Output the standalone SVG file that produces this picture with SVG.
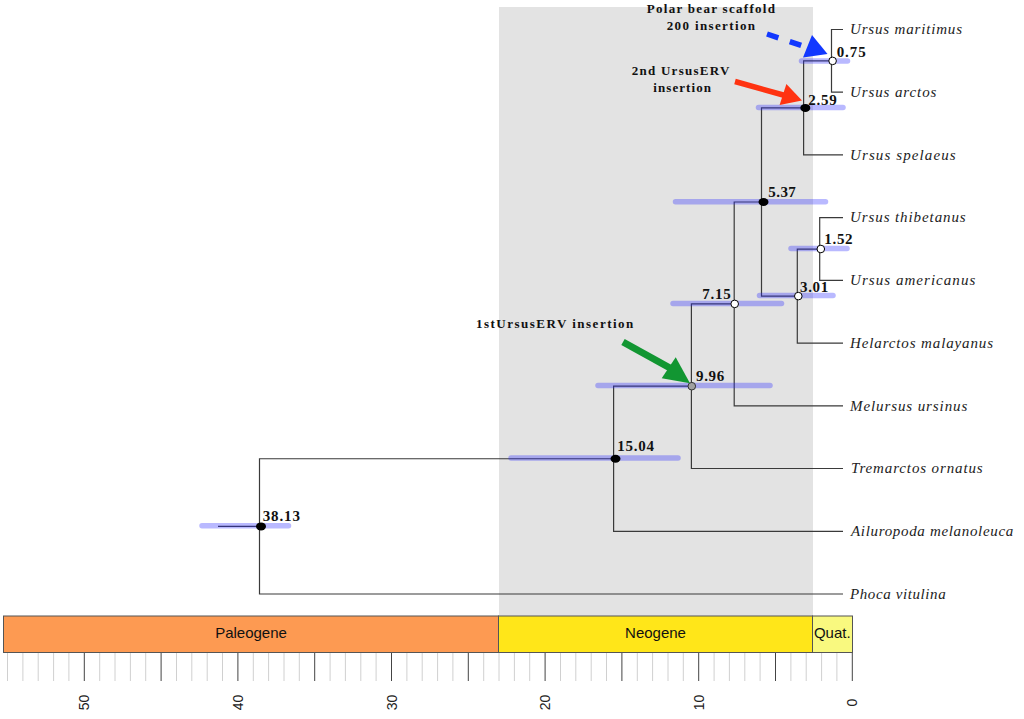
<svg xmlns="http://www.w3.org/2000/svg" width="1024" height="719" viewBox="0 0 1024 719">
<defs>
<style>
.br{fill:none;stroke:#3a3a3a;stroke-width:1.2}
.hpd{stroke:#2b2bff;stroke-opacity:0.33;stroke-width:5.5;stroke-linecap:round}
.nl{font-family:"Liberation Serif",serif;font-weight:bold;font-size:15px;fill:#111}
.tx{font-family:"Liberation Serif",serif;font-style:italic;font-size:15px;fill:#222}
.an{font-family:"Liberation Serif",serif;font-weight:bold;font-size:13px;fill:#111}
.per{font-family:"Liberation Sans",Arial,sans-serif;font-size:15px;fill:#111;text-anchor:middle}
.ax{font-family:"Liberation Sans",Arial,sans-serif;font-size:14px;fill:#222;text-anchor:middle}
.op{fill:#fff;stroke:#000;stroke-width:1}
.bk{fill:#000}
</style>
</defs>
<rect width="1024" height="719" fill="#fff"/>
<rect x="499" y="7" width="314" height="609" fill="#e3e3e3"/>

<g id="connectors">
<path class="br" d="M218 526.4H259.5"/>
<path class="br" d="M843 29.5H831.5V92.2H843"/>
<path class="br" d="M831.5 60.9H803.6V154.9H843"/>
<path class="br" d="M843 217.7H819.7V280.4H843"/>
<path class="br" d="M819.7 249.05H797.3V343.1H843"/>
<path class="br" d="M803.6 107.9H761.5V296.1H797.3"/>
<path class="br" d="M761.5 202H734.2V405.8H843"/>
<path class="br" d="M734.2 303.9H691.4V468.5H843"/>
<path class="br" d="M691.4 386.2H613.6V531.3H843"/>
<path class="br" d="M613.6 458.75H259.5V594H843"/>
</g>

<g id="hpd-bars">
<line class="hpd" x1="801.5" y1="60.9" x2="847.5" y2="60.9"/>
<line class="hpd" x1="758.5" y1="107.6" x2="843" y2="107.6"/>
<line class="hpd" x1="675.5" y1="201.7" x2="825.5" y2="201.7"/>
<line class="hpd" x1="791" y1="248.5" x2="847" y2="248.5"/>
<line class="hpd" x1="759.5" y1="295.6" x2="833" y2="295.6"/>
<line class="hpd" x1="673" y1="303.6" x2="781.5" y2="303.6"/>
<line class="hpd" x1="598" y1="385.6" x2="770" y2="385.6"/>
<line class="hpd" x1="511" y1="458" x2="678" y2="458"/>
<line class="hpd" x1="202" y1="525.8" x2="288.5" y2="525.8"/>
</g>

<g id="node-0.75"><circle class="op" cx="832.6" cy="60.9" r="3.8"/><text class="nl" x="836.7" y="57" textLength="29" lengthAdjust="spacing">0.75</text></g>
<g id="node-2.59"><ellipse class="bk" cx="805.3" cy="107.9" rx="5" ry="4"/><text class="nl" x="808.3" y="105" textLength="28.5" lengthAdjust="spacing">2.59</text></g>
<g id="node-5.37"><ellipse class="bk" cx="763.5" cy="202" rx="5" ry="4"/><text class="nl" x="768.3" y="196.7" textLength="27.5" lengthAdjust="spacing">5.37</text></g>
<g id="node-1.52"><circle class="op" cx="820.8" cy="249" r="3.8"/><text class="nl" x="824.3" y="244.3" textLength="28.3" lengthAdjust="spacing">1.52</text></g>
<g id="node-3.01"><circle class="op" cx="798.3" cy="296.1" r="3.8"/><text class="nl" x="800" y="292.3" textLength="28.3" lengthAdjust="spacing">3.01</text></g>
<g id="node-7.15"><circle class="op" cx="734.7" cy="303.9" r="3.8"/><text class="nl" x="702.3" y="299" textLength="28.4" lengthAdjust="spacing">7.15</text></g>
<g id="node-9.96"><circle cx="691.8" cy="386.2" r="3.8" fill="#a0a0a0" stroke="#333" stroke-width="1"/><text class="nl" x="696" y="381" textLength="28.3" lengthAdjust="spacing">9.96</text></g>
<g id="node-15.04"><ellipse class="bk" cx="615.5" cy="458.75" rx="5" ry="4"/><text class="nl" x="617.3" y="451" textLength="36.7" lengthAdjust="spacing">15.04</text></g>
<g id="node-38.13"><ellipse class="bk" cx="261" cy="526.4" rx="5" ry="4"/><text class="nl" x="262.7" y="520.7" font-weight="normal" textLength="37.3" lengthAdjust="spacing">38.13</text></g>

<g id="tip-maritimus"><text class="tx" x="850" y="34.2" textLength="112" lengthAdjust="spacing">Ursus maritimus</text></g>
<g id="tip-arctos"><text class="tx" x="850" y="96.9" textLength="86.4" lengthAdjust="spacing">Ursus arctos</text></g>
<g id="tip-spelaeus"><text class="tx" x="850" y="159.6" textLength="105.7" lengthAdjust="spacing">Ursus spelaeus</text></g>
<g id="tip-thibetanus"><text class="tx" x="850" y="222.4" textLength="115.7" lengthAdjust="spacing">Ursus thibetanus</text></g>
<g id="tip-americanus"><text class="tx" x="850" y="285.1" textLength="125.3" lengthAdjust="spacing">Ursus americanus</text></g>
<g id="tip-helarctos"><text class="tx" x="850" y="347.8" textLength="143" lengthAdjust="spacing">Helarctos malayanus</text></g>
<g id="tip-melursus"><text class="tx" x="850" y="410.5" textLength="117.3" lengthAdjust="spacing">Melursus ursinus</text></g>
<g id="tip-tremarctos"><text class="tx" x="851" y="473.2" textLength="131.7" lengthAdjust="spacing">Tremarctos ornatus</text></g>
<g id="tip-ailuropoda"><text class="tx" x="851" y="536" textLength="162.3" lengthAdjust="spacing">Ailuropoda melanoleuca</text></g>
<g id="tip-phoca"><text class="tx" x="850" y="598.7" textLength="95.7" lengthAdjust="spacing">Phoca vitulina</text></g>

<g id="annot-polar">
<text class="an" x="646.7" y="12.5" textLength="128.3" lengthAdjust="spacing">Polar bear scaffold</text>
<text class="an" x="666.7" y="30" textLength="88.3" lengthAdjust="spacing">200 insertion</text>
<line x1="767" y1="34" x2="801.2" y2="45.4" stroke="#1238ff" stroke-width="5.5" stroke-dasharray="12 12"/>
<polygon points="803,57.5 812,35 827.5,54" fill="#1238ff"/>
</g>
<g id="annot-2nd">
<text class="an" x="631.7" y="75" textLength="97.6" lengthAdjust="spacing">2nd UrsusERV</text>
<text class="an" x="653.3" y="91.7" textLength="57.7" lengthAdjust="spacing">insertion</text>
<line x1="735" y1="81.5" x2="785" y2="95.5" stroke="#ff3311" stroke-width="5.5"/>
<polygon points="786.4,83.9 779.6,104.9 802,100.5" fill="#ff3311"/>
</g>
<g id="annot-1st">
<text class="an" x="476" y="327.7" textLength="157.3" lengthAdjust="spacing">1stUrsusERV insertion</text>
<line x1="623" y1="342" x2="670" y2="368" stroke="#129632" stroke-width="7"/>
<polygon points="661.7,378.3 675.7,357.3 690,383.3" fill="#129632"/>
</g>

<g id="timescale">
<rect x="3.5" y="616" width="495" height="36.5" fill="#fd9a52" stroke="#555" stroke-width="1"/>
<rect x="498.5" y="616" width="314" height="36.5" fill="#ffe619" stroke="#555" stroke-width="1"/>
<rect x="812.5" y="616" width="40" height="36.5" fill="#f9f97f" stroke="#555" stroke-width="1"/>
<text class="per" x="251" y="637.7">Paleogene</text>
<text class="per" x="655.5" y="637.7">Neogene</text>
<text class="per" x="832.3" y="637.7">Quat.</text>
</g>

<g id="axis">
<path fill="none" stroke="#d0d0d0" stroke-width="1" d="M836.9 653V681M821.6 653V681M806.2 653V681M790.9 653V681M760.1 653V681M744.8 653V681M729.4 653V681M714.1 653V681M683.3 653V681M668 653V681M652.6 653V681M637.3 653V681M606.5 653V681M591.2 653V681M575.8 653V681M560.5 653V681M529.7 653V681M514.4 653V681M499 653V681M483.7 653V681M452.9 653V681M437.6 653V681M422.2 653V681M406.9 653V681M376.1 653V681M360.8 653V681M345.4 653V681M330.1 653V681M299.3 653V681M284 653V681M268.6 653V681M253.3 653V681M222.5 653V681M207.2 653V681M191.8 653V681M176.5 653V681M145.7 653V681M130.4 653V681M115 653V681M99.7 653V681M68.9 653V681M53.6 653V681M38.2 653V681M22.9 653V681M7.5 653V681"/>
<path fill="none" stroke="#444" stroke-width="1" d="M852.3 653V681M775.5 653V681M698.7 653V681M621.9 653V681M545.1 653V681M468.3 653V681M391.5 653V681M314.7 653V681M237.9 653V681M161.1 653V681M84.3 653V681"/>
<text class="ax" transform="translate(857.3,702.5) rotate(-90)">0</text>
<text class="ax" transform="translate(703.7,702.5) rotate(-90)">10</text>
<text class="ax" transform="translate(550.1,702.5) rotate(-90)">20</text>
<text class="ax" transform="translate(396.5,702.5) rotate(-90)">30</text>
<text class="ax" transform="translate(242.9,702.5) rotate(-90)">40</text>
<text class="ax" transform="translate(89.3,702.5) rotate(-90)">50</text>
</g>
</svg>
